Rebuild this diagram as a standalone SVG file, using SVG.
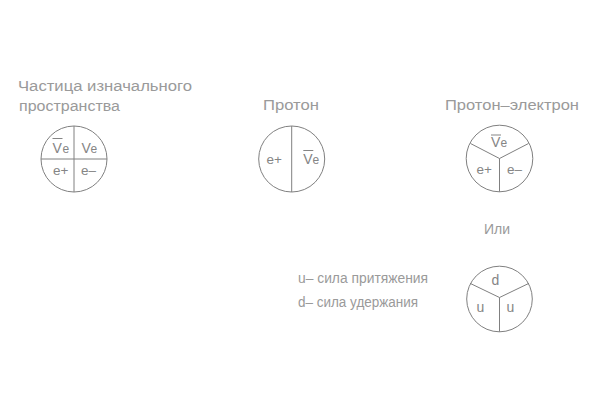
<svg xmlns="http://www.w3.org/2000/svg" width="591" height="417" viewBox="0 0 591 417">
<style>
.bg{fill:#ffffff}
.c{fill:none;stroke:#808080;stroke-width:1}
.l{stroke:#808080;stroke-width:1;fill:none}
.t{font-family:"Liberation Sans",Arial,sans-serif;font-size:14px;fill:#9a9a9a}
.v{font-family:"Liberation Sans",Arial,sans-serif;font-size:14px;fill:#858585}
.s{font-family:"Liberation Sans",Arial,sans-serif;font-size:12px;fill:#858585}
.p{font-family:"Liberation Sans",Arial,sans-serif;font-size:13.5px;fill:#858585}
.o{stroke:#858585;stroke-width:1}
</style>
<rect class="bg" x="0" y="0" width="591" height="417"/>

<g id="title1">
<text class="t" x="18" y="91" textLength="174" lengthAdjust="spacingAndGlyphs">Частица изначального</text>
<text class="t" x="19" y="111" textLength="101" lengthAdjust="spacingAndGlyphs">пространства</text>
</g>
<g id="title2"><text class="t" x="263" y="110" textLength="56" lengthAdjust="spacingAndGlyphs">Протон</text></g>
<g id="title3"><text class="t" x="445" y="110" textLength="134" lengthAdjust="spacingAndGlyphs">Протон–электрон</text></g>
<g id="or"><text class="t" x="484" y="234" textLength="26" lengthAdjust="spacingAndGlyphs">Или</text></g>
<g id="legend">
<text class="t" x="298" y="283" textLength="130" lengthAdjust="spacingAndGlyphs">u– сила притяжения</text>
<text class="t" x="298" y="307" textLength="120" lengthAdjust="spacingAndGlyphs">d– сила удержания</text>
</g>

<g id="particle1">
<circle class="c" cx="74" cy="159" r="33"/>
<line class="l" x1="74" y1="126" x2="74" y2="192"/>
<line class="l" x1="41" y1="159" x2="107" y2="159"/>
<line class="o" x1="52.5" y1="138.5" x2="62.5" y2="138.5"/>
<text class="v" x="52.5" y="153">V</text><text class="s" x="62.5" y="153">e</text>
<text class="v" x="81.5" y="153">V</text><text class="s" x="90.5" y="153">e</text>
<text class="p" x="53" y="175">e+</text>
<text class="p" x="81" y="175">e–</text>
</g>

<g id="proton">
<circle class="c" cx="291.7" cy="159" r="33"/>
<line class="l" x1="291.7" y1="126" x2="291.7" y2="192"/>
<line class="o" x1="303.3" y1="150.5" x2="313.3" y2="150.5"/>
<text class="v" x="303.3" y="164">V</text><text class="s" x="312.5" y="164">e</text>
<text class="p" x="266.5" y="164">e+</text>
</g>

<g id="proton-electron">
<circle class="c" cx="499.5" cy="158.5" r="33.3"/>
<line class="l" x1="499.5" y1="158.5" x2="499.5" y2="191.8"/>
<line class="l" x1="499.5" y1="158.5" x2="470.5" y2="143.5"/>
<line class="l" x1="499.5" y1="158.5" x2="528.5" y2="143.5"/>
<line class="o" x1="491" y1="135" x2="501" y2="135"/>
<text class="v" x="491" y="147">V</text><text class="s" x="500.5" y="147">e</text>
<text class="p" x="476.5" y="173.5">e+</text>
<text class="p" x="507" y="173.5">e–</text>
</g>

<g id="quark">
<circle class="c" cx="499.5" cy="299" r="32.8"/>
<line class="l" x1="499.5" y1="297.5" x2="499.5" y2="331.8"/>
<line class="l" x1="499.5" y1="297.5" x2="470" y2="283.3"/>
<line class="l" x1="499.5" y1="297.5" x2="529" y2="283.3"/>
<text class="v" x="491.5" y="285">d</text>
<text class="v" x="476.5" y="312">u</text>
<text class="v" x="506.5" y="312">u</text>
</g>

<g id="connectors"></g>
</svg>
